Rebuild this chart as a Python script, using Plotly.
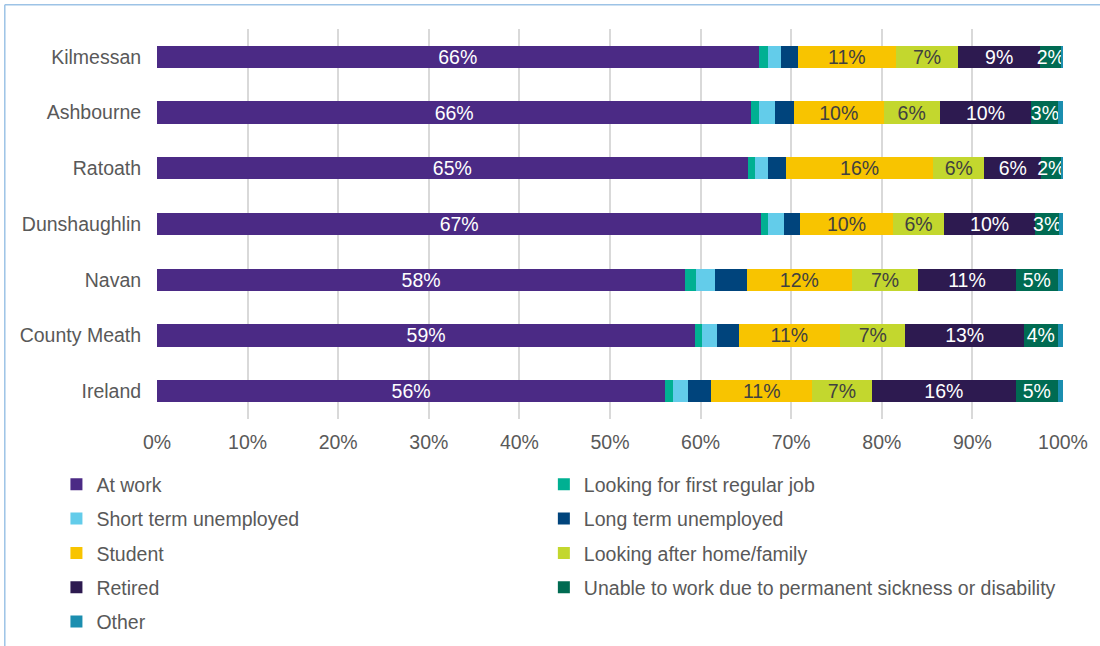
import plotly.graph_objects as go

areas = ["Kilmessan", "Ashbourne", "Ratoath", "Dunshaughlin", "Navan", "County Meath", "Ireland"]

at_work        = [66.4, 65.6, 65.2, 66.7, 58.3, 59.4, 56.1]
first_job      = [1.0, 0.8, 0.8, 0.7, 1.2, 0.8, 0.8]
short_unemp    = [1.5, 1.8, 1.4, 1.8, 2.1, 1.6, 1.7]
long_unemp     = [1.8, 2.1, 2.0, 1.8, 3.5, 2.4, 2.6]
student        = [10.9, 9.9, 16.3, 10.2, 11.6, 11.2, 11.1]
home_family    = [6.8, 6.2, 5.6, 5.7, 7.3, 7.2, 6.6]
retired        = [9.1, 10.1, 6.3, 10.0, 10.8, 13.1, 15.9]
disability     = [2.3, 3.0, 2.2, 2.7, 4.6, 3.7, 4.6]
other          = [0.3, 0.5, 0.4, 0.4, 0.7, 0.6, 0.7]

tick_vals = [0, 10, 20, 30, 40, 50, 60, 70, 80, 90, 100]
tick_text = ["0%", "10%", "20%", "30%", "40%", "50%", "60%", "70%", "80%", "90%", "100%"]

FONT = "Liberation Sans, Arial, sans-serif"
FS = 19.5

series = [
    ("At work", at_work, "#4B2A85", True, "white", "legend"),
    ("Looking for first regular job", first_job, "#00B092", False, None, "legend2"),
    ("Short term unemployed", short_unemp, "#63CCEA", False, None, "legend"),
    ("Long term unemployed", long_unemp, "#00447C", False, None, "legend2"),
    ("Student", student, "#F8C400", True, "#404040", "legend"),
    ("Looking after home/family", home_family, "#C3D72E", True, "#404040", "legend2"),
    ("Retired", retired, "#2D1A50", True, "white", "legend"),
    ("Unable to work due to permanent sickness or disability", disability, "#006B52", True, "white", "legend2"),
    ("Other", other, "#1B8EAF", False, None, "legend"),
]

fig = go.Figure()
for name, vals, color, show_lbl, tcolor, lg in series:
    if show_lbl:
        kw = dict(texttemplate="%{x:.0f}%", textposition="inside", insidetextanchor="middle",
                  textangle=0, textfont=dict(color=tcolor, size=FS, family=FONT),
                  constraintext="none")
    else:
        kw = dict(textposition="none")
    fig.add_trace(go.Bar(
        y=areas, x=vals, name=name, orientation="h",
        marker=dict(color=color, line=dict(width=0)),
        legend=lg, legendgroup=name, hoverinfo="x+name",
        **kw
    ))

fig.update_layout(
    width=1100, height=646,
    barmode="stack", bargap=0.6,
    plot_bgcolor="white", paper_bgcolor="white",
    margin=dict(l=157, r=37, t=29, b=227, autoexpand=False),
    font=dict(family=FONT, size=FS, color="#595959"),
    uniformtext=dict(minsize=FS, mode="show"),
    xaxis=dict(range=[0, 100], tickvals=tick_vals, ticktext=tick_text,
               showgrid=True, gridcolor="#D9D9D9", gridwidth=1.5, zeroline=False,
               showline=False, ticks="outside", ticklen=6, tickcolor="rgba(0,0,0,0)",
               tickfont=dict(size=FS, color="#595959"), fixedrange=True),
    yaxis=dict(categoryorder="array", categoryarray=areas[::-1], showgrid=False,
               showline=False, ticks="outside", ticklen=11, tickcolor="rgba(0,0,0,0)",
               tickfont=dict(size=FS, color="#595959")),
    legend=dict(x=-0.111, y=-0.118, xanchor="left", yanchor="top", orientation="v",
                tracegroupgap=6, font=dict(size=FS, color="#595959"), itemwidth=30,
                bgcolor="rgba(0,0,0,0)"),
    legend2=dict(x=0.427, y=-0.118, xanchor="left", yanchor="top", orientation="v",
                 tracegroupgap=6, font=dict(size=FS, color="#595959"), itemwidth=30,
                 bgcolor="rgba(0,0,0,0)"),
    showlegend=True,
    shapes=[
        dict(type="line", xref="paper", yref="paper", x0=-0.168, x1=1.05, y0=1.062, y1=1.062,
             line=dict(color="#9DC3E6", width=1.5)),
        dict(type="line", xref="paper", yref="paper", x0=-0.168, x1=-0.168, y0=1.062, y1=-0.6,
             line=dict(color="#9DC3E6", width=1.5)),
    ],
)

fig.write_html("out.html")
